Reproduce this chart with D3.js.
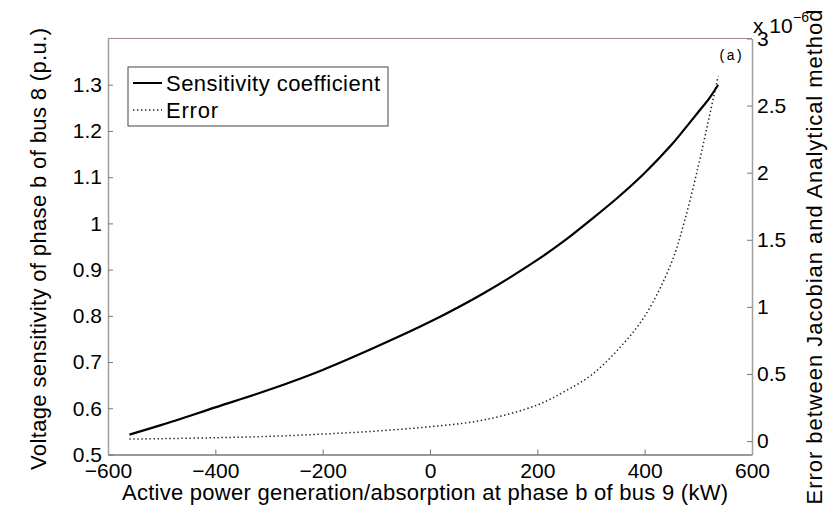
<!DOCTYPE html>
<html>
<head>
<meta charset="utf-8">
<script src="https://cdn.jsdelivr.net/npm/d3@7"></script>
<style>
  body { margin: 0; background: #fff; }
  text { font-family: "Liberation Sans", Arial, Helvetica, sans-serif; }
</style>
</head>
<body>
<script>
// active power at phase b of bus 9 (kW)
var powerKW = [-560, -500, -400, -300, -200, -100, 0, 100, 200, 250, 300, 350, 400, 450, 475, 500, 520, 537];
// voltage sensitivity (p.u.)
var sensitivity = [0.543, 0.564, 0.602, 0.640, 0.683, 0.733, 0.787, 0.849, 0.921, 0.962, 1.008, 1.056, 1.109, 1.170, 1.205, 1.241, 1.270, 1.300];
// error, in units of 1e-6
var errorE6 = [0.015, 0.018, 0.025, 0.035, 0.052, 0.075, 0.107, 0.157, 0.269, 0.368, 0.49, 0.68, 0.93, 1.33, 1.65, 2.05, 2.41, 2.72];

var xTicks = [-600, -400, -200, 0, 200, 400, 600];
var leftTicks = [0.5, 0.6, 0.7, 0.8, 0.9, 1, 1.1, 1.2, 1.3];
var rightTicks = [0, 0.5, 1, 1.5, 2, 2.5, 3];
var legendLabels = ["Sensitivity coefficient", "Error"];

var w = 830, h = 511;
var plotL = 108, plotR = 752, plotT = 38.5, plotB = 454.5;

var svg = d3.select("body").append("svg")
    .attr("width", w)
    .attr("height", h);

var x = d3.scaleLinear().domain([-600, 600]).range([plotL, plotR]);
var yL = d3.scaleLinear().domain([0.5, 1.4]).range([plotB, plotT]);
var yR = d3.scaleLinear().domain([-0.1, 3]).range([plotB, plotT]);

// top border
svg.append("line")
    .attr("x1", plotL).attr("x2", plotR)
    .attr("y1", plotT).attr("y2", plotT)
    .attr("stroke", "#a08888").attr("stroke-width", 1);

// axes
var fmt = function(d) { return d3.format("~g")(d); };

var xAxis = svg.append("g")
    .attr("transform", "translate(0," + plotB + ")")
    .call(d3.axisBottom(x).tickValues(xTicks).tickSizeInner(-5).tickSizeOuter(0).tickPadding(9)
        .tickFormat(function(d) { return d < 0 ? "\u2212" + (-d) : d; }));

var yAxisL = svg.append("g")
    .attr("transform", "translate(" + plotL + ",0)")
    .call(d3.axisLeft(yL).tickValues(leftTicks).tickSizeInner(-5).tickSizeOuter(0).tickPadding(6).tickFormat(fmt));

var yAxisR = svg.append("g")
    .attr("transform", "translate(" + plotR + ",0)")
    .call(d3.axisRight(yR).tickValues(rightTicks).tickSizeInner(-5).tickSizeOuter(0).tickPadding(5).tickFormat(fmt));

[xAxis, yAxisL, yAxisR].forEach(function(g) {
    g.select(".domain").attr("stroke", "#a0a0a0").attr("stroke-width", 1.5);
    g.selectAll(".tick line").attr("stroke", "#777");
    g.selectAll(".tick text").attr("fill", "#000")
        .style("font-size", "21px")
        .style("font-family", "'Liberation Sans', Arial, sans-serif");
});
xAxis.select(".domain").attr("stroke", "#777");
xAxis.selectAll(".tick text").attr("dy", "0.68em");

// lines
var sensLine = d3.line()
    .x(function(d, i) { return x(powerKW[i]); })
    .y(function(d) { return yL(d); })
    .curve(d3.curveCatmullRom);

var errLine = d3.line()
    .x(function(d, i) { return x(powerKW[i]); })
    .y(function(d) { return yR(d); })
    .curve(d3.curveCatmullRom);

svg.append("path")
    .datum(errorE6)
    .attr("d", errLine)
    .attr("fill", "none")
    .attr("stroke", "#222")
    .attr("stroke-width", 1.5)
    .attr("stroke-dasharray", "1.4,2.6");

svg.append("path")
    .datum(sensitivity)
    .attr("d", sensLine)
    .attr("fill", "none")
    .attr("stroke", "#000")
    .attr("stroke-width", 2.2);

// legend
var lg = svg.append("g");
lg.append("rect")
    .attr("x", 128).attr("y", 67)
    .attr("width", 260).attr("height", 59)
    .attr("fill", "#fff").attr("stroke", "#444").attr("stroke-width", 1);
lg.append("line")
    .attr("x1", 133).attr("x2", 162).attr("y1", 83).attr("y2", 83)
    .attr("stroke", "#000").attr("stroke-width", 2);
lg.append("line")
    .attr("x1", 133).attr("x2", 162).attr("y1", 110).attr("y2", 110)
    .attr("stroke", "#222").attr("stroke-width", 1.5).attr("stroke-dasharray", "1.4,2.6");
lg.selectAll("text.leg")
    .data(legendLabels)
    .enter().append("text")
    .attr("class", "leg")
    .attr("x", 166)
    .attr("y", function(d, i) { return 91 + i * 27; })
    .attr("textLength", function(d, i) { return i === 0 ? 214 : 52; })
    .style("font-size", "22px")
    .text(function(d) { return d; });

// axis labels
svg.append("text")
    .attr("x", 425).attr("y", 500)
    .attr("text-anchor", "middle")
    .attr("textLength", 606)
    .style("font-size", "22px")
    .text("Active power generation/absorption at phase b of bus 9 (kW)");

svg.append("text")
    .attr("transform", "translate(46,249) rotate(-90)")
    .attr("text-anchor", "middle")
    .attr("textLength", 442)
    .style("font-size", "22px")
    .text("Voltage sensitivity of phase b of bus 8 (p.u.)");

svg.append("text")
    .attr("transform", "translate(822,257) rotate(-90)")
    .attr("text-anchor", "middle")
    .attr("textLength", 495)
    .style("font-size", "22px")
    .text("Error between Jacobian and Analytical method");

// exponent
svg.append("text").attr("x", 753).attr("y", 33).style("font-size", "21px").text("x 10");
svg.append("text").attr("x", 793).attr("y", 22).style("font-size", "14px").text("\u22126");

// panel tag
svg.append("text")
    .attr("x", 718).attr("y", 60)
    .style("font-family", "'Liberation Mono', 'DejaVu Sans Mono', monospace")
    .style("font-size", "14px")
    .text("(a)");
</script>
</body>
</html>
